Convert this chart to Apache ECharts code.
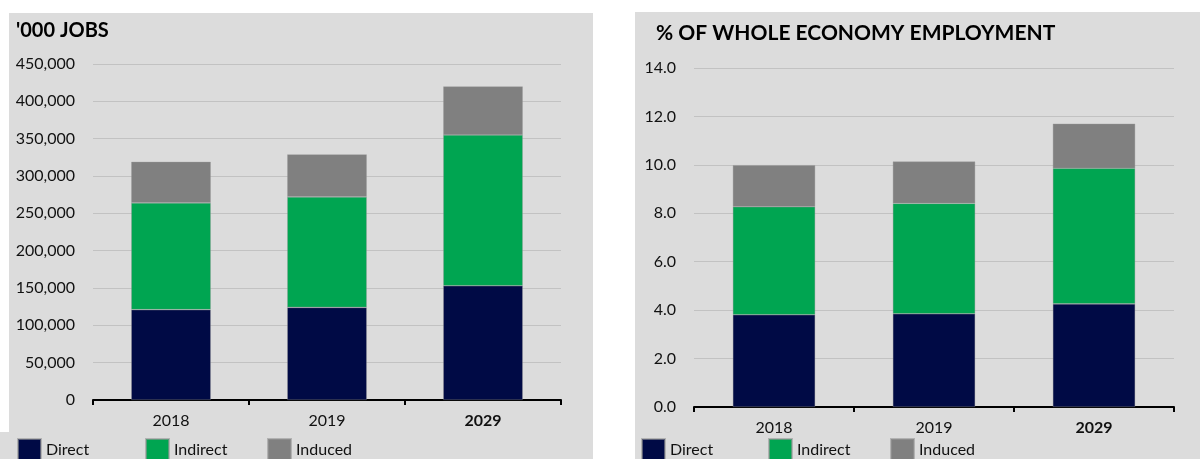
<!DOCTYPE html>
<html>
<head>
<meta charset="utf-8">
<title>Jobs supported</title>
<script src="https://cdn.jsdelivr.net/npm/echarts@6/dist/echarts.min.js"></script>
<style>
  html, body { margin: 0; padding: 0; background: #ffffff; }
  #chart { width: 1200px; height: 459px; }
</style>
</head>
<body>
<div id="chart"></div>
<script>
// Years shown on both panels
const years = ['2018', '2019', '2029'];

// Jobs ('000)
const jobsDirect   = [121000, 124000, 153000];
const jobsIndirect = [143000, 148000, 202000];
const jobsInduced  = [55000, 57000, 65000];

// Share of whole economy employment (%)
const shareDirect   = [3.81, 3.85, 4.26];
const shareIndirect = [4.46, 4.56, 5.60];
const shareInduced  = [1.72, 1.73, 1.84];

const seriesNames = ['Direct', 'Indirect', 'Induced'];
const colors = { Direct: '#000a45', Indirect: '#00a551', Induced: '#808080' };

const FONT = 'Lato, "Open Sans", sans-serif';
const INK = '#111111';
const PANEL = '#dcdcdc';

const chart = echarts.init(document.getElementById('chart'), null, { renderer: 'canvas' });

function axisX(gridIndex, margin) {
  return {
    type: 'category',
    gridIndex,
    data: years,
    axisLine: { lineStyle: { color: '#000000', width: 2 } },
    axisTick: { show: true, length: 5, lineStyle: { color: '#000000', width: 2 } },
    axisLabel: {
      fontFamily: FONT, fontSize: 16, fontWeight: 'normal', color: INK, margin,
      formatter: (v) => v === '2029' ? '{b|' + v + '}' : '{n|' + v + '}',
      rich: {
        n: { fontFamily: FONT, fontSize: 16, fontWeight: 'normal', color: INK },
        b: { fontFamily: FONT, fontSize: 16, fontWeight: 'bold', color: INK }
      }
    }
  };
}

function axisY(gridIndex, max, interval, fmt) {
  return {
    type: 'value',
    gridIndex,
    min: 0, max, interval,
    axisLine: { show: false },
    axisTick: { show: false },
    splitLine: { lineStyle: { color: '#c2c2c2', width: 1 } },
    axisLabel: { fontFamily: FONT, fontSize: 16, color: INK, margin: 18, formatter: fmt }
  };
}

function stackSeries(gridIdx, stackName, data, barWidth) {
  return seriesNames.map((name, i) => ({
    name,
    type: 'bar',
    stack: stackName,
    xAxisIndex: gridIdx,
    yAxisIndex: gridIdx,
    barWidth,
    data: data[i],
    itemStyle: { color: colors[name], borderColor: 'rgba(150,150,150,0.6)', borderWidth: 0.6 },
    emphasis: { disabled: true }
  }));
}

function legendItem(name, left) {
  return {
    data: [{ name, icon: 'rect' }],
    left, top: 438,
    itemWidth: 23, itemHeight: 22, itemGap: 0,
    padding: 0,
    textStyle: { fontFamily: FONT, fontSize: 16, color: INK, padding: [3, 0, 0, 0] },
    selectedMode: false
  };
}

const option = {
  animation: false,
  backgroundColor: '#ffffff',
  graphic: [
    { type: 'rect', z: -10, shape: { x: 9, y: 13, width: 584, height: 420 }, style: { fill: PANEL } },
    { type: 'rect', z: -10, shape: { x: 0, y: 432, width: 593, height: 27 }, style: { fill: PANEL } },
    { type: 'rect', z: -10, shape: { x: 635, y: 12, width: 565, height: 447 }, style: { fill: PANEL } }
  ],
  title: [
    { text: "'000 JOBS", left: 11, top: 16,
      textStyle: { fontFamily: FONT, fontSize: 20, fontWeight: 'bold', color: '#000000' } },
    { text: '% OF WHOLE ECONOMY EMPLOYMENT', left: 651, top: 18,
      textStyle: { fontFamily: FONT, fontSize: 21, fontWeight: 'bold', color: '#000000' } }
  ],
  legend: [
    legendItem('Direct', 17), legendItem('Indirect', 145), legendItem('Induced', 267),
    legendItem('Direct', 641), legendItem('Indirect', 768), legendItem('Induced', 890)
  ],
  grid: [
    { left: 93, top: 64, width: 468, height: 336, containLabel: false },
    { left: 694, top: 68, width: 480, height: 339, containLabel: false }
  ],
  xAxis: [axisX(0, 13), axisX(1, 13)],
  yAxis: [
    axisY(0, 450000, 50000, (v) => v.toLocaleString('en-US')),
    axisY(1, 14, 2, (v) => v.toFixed(1))
  ],
  series: [
    ...stackSeries(0, 'jobs', [jobsDirect, jobsIndirect, jobsInduced], '51%'),
    ...stackSeries(1, 'share', [shareDirect, shareIndirect, shareInduced], '51.5%')
  ]
};

chart.setOption(option);
</script>
</body>
</html>
